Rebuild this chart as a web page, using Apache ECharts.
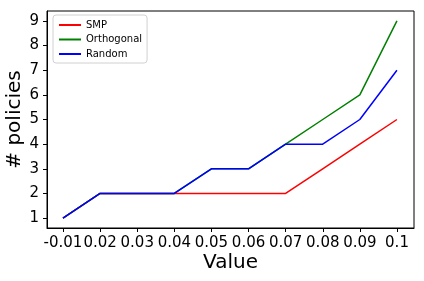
<!DOCTYPE html>
<html><head><meta charset="utf-8">
<script src="https://cdn.jsdelivr.net/npm/echarts@6/dist/echarts.min.js"></script>
<style>html,body{margin:0;padding:0;background:#fff}#c{width:424px;height:281px}</style>
</head><body><div id="c"></div>
<script>
const xLabels = ['-0.01','0.02','0.03','0.04','0.05','0.06','0.07','0.08','0.09','0.1'];
const smp = [1,2,2,2,2,2,2,3,4,5];
const orthogonal = [1,2,2,2,3,3,4,5,6,9];
const random = [1,2,2,2,3,3,4,4,5,7];
const yTicks = [1,2,3,4,5,6,7,8,9];
const xTitle = 'Value';
const yTitle = '# policies';

const toPts = arr => arr.map((v, i) => [i, v]);
const font = 'DejaVu Sans';
const chart = echarts.init(document.getElementById('c'), null, {renderer: 'canvas'});
const mk = (name, data, color) => ({
  name, type: 'line', xAxisIndex: 0, yAxisIndex: 0, data: toPts(data), showSymbol: false, symbol: 'none',
  lineStyle: {color, width: 1.5}, itemStyle: {color}, animation: false
});
chart.setOption({
  animation: false,
  textStyle: {fontFamily: font},
  grid: [
    {left: 47, right: 10, top: 11, bottom: 53, containLabel: false, outerBoundsMode: 'none'},
    {left: 44.45, right: 8.45, top: 11, bottom: 53, containLabel: false, outerBoundsMode: 'none'}
  ],
  legend: {
    left: 53, top: 15, orient: 'vertical', itemWidth: 22, itemHeight: 2, itemGap: 4.5,
    padding: [5, 5, 4, 6], borderColor: '#d0d0d0', borderWidth: 1, borderRadius: 3,
    backgroundColor: 'rgba(255,255,255,0.8)',
    textStyle: {fontFamily: font, fontSize: 10, color: '#000'},
    icon: 'rect',
    data: ['SMP', 'Orthogonal', 'Random']
  },
  xAxis: [{
    type: 'value', gridIndex: 0, min: -0.43, max: 9.46,
    axisLine: {onZero: false, lineStyle: {color: '#000', width: 1}},
    axisTick: {show: false},
    axisLabel: {show: false},
    splitLine: {show: false}
  }, {
    type: 'category', gridIndex: 1, data: xLabels, boundaryGap: true,
    axisLine: {show: false, onZero: false},
    axisTick: {show: true, alignWithLabel: true, interval: 0, inside: false, length: 4, lineStyle: {color: '#000'}},
    axisLabel: {interval: 0, fontFamily: font, fontSize: 15, color: '#000', margin: 8},
    splitLine: {show: false}
  }],
  yAxis: [{
    type: 'value', gridIndex: 0, min: 0.6, max: 9.4,
    axisLine: {show: true, onZero: false, lineStyle: {color: '#000', width: 1}},
    axisTick: {show: true, inside: false, length: 4, lineStyle: {color: '#000'}, customValues: yTicks},
    axisLabel: {customValues: yTicks, fontFamily: font, fontSize: 15, color: '#000', margin: 8},
    splitLine: {show: false}
  }, {
    type: 'value', gridIndex: 1, min: 0, max: 1, show: false
  }],
  series: [
    mk('SMP', smp, '#ff0000'),
    mk('Orthogonal', orthogonal, '#008000'),
    mk('Random', random, '#0000ff')
  ],
  graphic: [
    {type: 'rect', shape: {x: 47, y: 11, width: 367, height: 217}, style: {fill: 'none', stroke: '#000', lineWidth: 1}, silent: true, z: 100},
    {type: 'text', x: 230.5, y: 263, silent: true,
     style: {text: xTitle, fill: '#000', font: '20px "DejaVu Sans"', align: 'center', verticalAlign: 'middle'}},
    {type: 'text', x: 15, y: 119.5, rotation: Math.PI / 2, silent: true,
     style: {text: yTitle, fill: '#000', font: '20px "DejaVu Sans"', align: 'center', verticalAlign: 'middle'}}
  ]
});
</script></body></html>
